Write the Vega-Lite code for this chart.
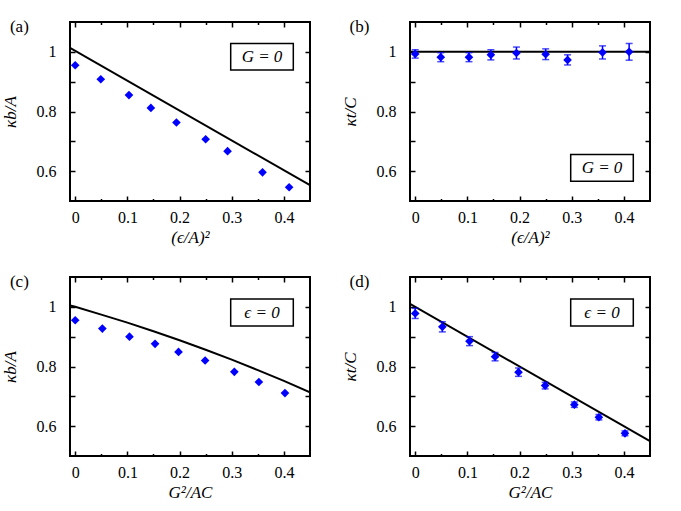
{
  "$schema": "https://vega.github.io/schema/vega-lite/v6.json",
  "background": "white",
  "padding": {"left": 0, "top": 17, "right": 5, "bottom": 5},
  "config": {
    "view": {"stroke": "black", "strokeWidth": 2},
    "axis": {"domain": false, "grid": false, "tickColor": "black", "tickWidth": 1.5, "labelFont": "Liberation Serif", "labelFontSize": 16, "labelColor": "black", "titleFont": "Liberation Serif", "titleFontSize": 17, "titleFontWeight": "normal", "titleFontStyle": "italic", "titleColor": "black"},
    "text": {"font": "Liberation Serif", "color": "black"}
  },
  "datasets": {
    "pa": [{"x": 0, "y": 0.955}, {"x": 0.049, "y": 0.908}, {"x": 0.103, "y": 0.855}, {"x": 0.145, "y": 0.812}, {"x": 0.194, "y": 0.763}, {"x": 0.25, "y": 0.707}, {"x": 0.292, "y": 0.667}, {"x": 0.359, "y": 0.596}, {"x": 0.41, "y": 0.546}],
    "pb": [{"x": 0, "y": 0.993, "lo": 0.979, "hi": 1.007}, {"x": 0.049, "y": 0.982, "lo": 0.967, "hi": 0.997}, {"x": 0.103, "y": 0.982, "lo": 0.967, "hi": 0.997}, {"x": 0.145, "y": 0.99, "lo": 0.973, "hi": 1.007}, {"x": 0.194, "y": 0.996, "lo": 0.976, "hi": 1.016}, {"x": 0.25, "y": 0.992, "lo": 0.974, "hi": 1.01}, {"x": 0.292, "y": 0.973, "lo": 0.956, "hi": 0.99}, {"x": 0.359, "y": 0.998, "lo": 0.976, "hi": 1.02}, {"x": 0.41, "y": 1.0, "lo": 0.972, "hi": 1.028}],
    "pc": [{"x": 0, "y": 0.955}, {"x": 0.052, "y": 0.927}, {"x": 0.104, "y": 0.9}, {"x": 0.153, "y": 0.876}, {"x": 0.198, "y": 0.849}, {"x": 0.249, "y": 0.82}, {"x": 0.305, "y": 0.782}, {"x": 0.352, "y": 0.748}, {"x": 0.402, "y": 0.711}],
    "pd": [{"x": 0, "y": 0.978, "lo": 0.961, "hi": 0.995}, {"x": 0.052, "y": 0.933, "lo": 0.916, "hi": 0.95}, {"x": 0.104, "y": 0.885, "lo": 0.87, "hi": 0.9}, {"x": 0.153, "y": 0.833, "lo": 0.819, "hi": 0.847}, {"x": 0.198, "y": 0.781, "lo": 0.767, "hi": 0.795}, {"x": 0.249, "y": 0.736, "lo": 0.725, "hi": 0.747}, {"x": 0.305, "y": 0.672, "lo": 0.663, "hi": 0.681}, {"x": 0.352, "y": 0.63, "lo": 0.621, "hi": 0.639}, {"x": 0.402, "y": 0.576, "lo": 0.568, "hi": 0.584}],
    "la": [{"x": -0.01, "y": 1.013}, {"x": 0.45, "y": 0.553}],
    "lb": [{"x": -0.01, "y": 1.0}, {"x": 0.45, "y": 1.0}],
    "lc": [{"x": -0.01, "y": 1.005}, {"x": 0, "y": 1.0}, {"x": 0.05, "y": 0.974}, {"x": 0.1, "y": 0.947}, {"x": 0.15, "y": 0.918}, {"x": 0.2, "y": 0.888}, {"x": 0.25, "y": 0.856}, {"x": 0.3, "y": 0.823}, {"x": 0.35, "y": 0.788}, {"x": 0.4, "y": 0.752}, {"x": 0.45, "y": 0.713}],
    "ld": [{"x": -0.01, "y": 1.01}, {"x": 0.45, "y": 0.55}],
    "one": [{}]
  },
  "columns": 2,
  "bounds": "flush",
  "spacing": {"row": 76, "column": 100},
  "concat": [
    {
      "width": 240, "height": 179,
      "resolve": {"axis": {"x": "independent", "y": "independent"}},
      "layer": [
        {"data": {"name": "la"}, "mark": {"type": "line", "color": "black", "strokeWidth": 2, "clip": true},
         "encoding": {
           "x": {"field": "x", "type": "quantitative", "scale": {"domain": [-0.01, 0.45], "nice": false, "zero": false},
                 "axis": {"orient": "bottom", "values": [0, 0.05, 0.1, 0.15, 0.2, 0.25, 0.3, 0.35, 0.4], "labelExpr": "round(datum.value*100) % 10 == 0 ? format(datum.value,'~g') : ''", "tickSize": {"condition": {"test": "round(datum.value*100) % 10 != 0", "value": -2.5}, "value": -5}, "labelPadding": 13, "title": "(ϵ/A)²", "titlePadding": 4}},
           "y": {"field": "y", "type": "quantitative", "scale": {"domain": [0.5, 1.1], "nice": false, "zero": false},
                 "axis": {"orient": "left", "values": [0.6, 0.7, 0.8, 0.9, 1], "labelExpr": "(datum.value > 0.65 && datum.value < 0.75) || (datum.value > 0.85 && datum.value < 0.95) ? '' : format(datum.value,'~g')", "tickSize": -5, "labelPadding": 19, "title": "κb/A", "titlePadding": 17}}
         }},
        {"data": {"name": "pa"}, "mark": {"type": "point", "shape": "diamond", "filled": true, "color": "#0000ff", "size": 75, "opacity": 1},
         "encoding": {
           "x": {"field": "x", "type": "quantitative", "axis": {"orient": "top", "values": [0, 0.05, 0.1, 0.15, 0.2, 0.25, 0.3, 0.35, 0.4], "labels": false, "title": null, "tickSize": {"condition": {"test": "round(datum.value*100) % 10 != 0", "value": -2.5}, "value": -5}}},
           "y": {"field": "y", "type": "quantitative", "axis": {"orient": "right", "values": [0.6, 0.7, 0.8, 0.9, 1], "labels": false, "title": null, "tickSize": -5}}
         }},
        {"data": {"name": "one"}, "mark": {"type": "rect", "fill": "white", "stroke": "black", "strokeWidth": 1.5},
         "encoding": {"x": {"datum": 0.298, "type": "quantitative", "axis": null}, "x2": {"datum": 0.418}, "y": {"datum": 1.028, "type": "quantitative", "axis": null}, "y2": {"datum": 0.939}}},
        {"data": {"name": "one"}, "mark": {"type": "text", "fontSize": 17, "fontStyle": "italic", "align": "center", "baseline": "middle"},
         "encoding": {"x": {"datum": 0.358, "type": "quantitative", "axis": null}, "y": {"datum": 0.983, "type": "quantitative", "axis": null}, "text": {"value": "G = 0"}}},
        {"data": {"name": "one"}, "mark": {"type": "text", "fontSize": 17, "align": "center", "baseline": "middle"},
         "encoding": {"x": {"datum": -0.107, "type": "quantitative", "axis": null}, "y": {"datum": 1.083, "type": "quantitative", "axis": null}, "text": {"value": "(a)"}}}
      ]
    },
    {
      "width": 240, "height": 179,
      "resolve": {"axis": {"x": "independent", "y": "independent"}},
      "layer": [
        {"data": {"name": "lb"}, "mark": {"type": "line", "color": "black", "strokeWidth": 2, "clip": true},
         "encoding": {
           "x": {"field": "x", "type": "quantitative", "scale": {"domain": [-0.01, 0.45], "nice": false, "zero": false},
                 "axis": {"orient": "bottom", "values": [0, 0.05, 0.1, 0.15, 0.2, 0.25, 0.3, 0.35, 0.4], "labelExpr": "round(datum.value*100) % 10 == 0 ? format(datum.value,'~g') : ''", "tickSize": {"condition": {"test": "round(datum.value*100) % 10 != 0", "value": -2.5}, "value": -5}, "labelPadding": 13, "title": "(ϵ/A)²", "titlePadding": 4}},
           "y": {"field": "y", "type": "quantitative", "scale": {"domain": [0.5, 1.1], "nice": false, "zero": false},
                 "axis": {"orient": "left", "values": [0.6, 0.7, 0.8, 0.9, 1], "labelExpr": "(datum.value > 0.65 && datum.value < 0.75) || (datum.value > 0.85 && datum.value < 0.95) ? '' : format(datum.value,'~g')", "tickSize": -5, "labelPadding": 19, "title": "κt/C", "titlePadding": 17}}
         }},
        {"data": {"name": "pb"}, "mark": {"type": "errorbar", "color": "#0000ff", "thickness": 1.5, "ticks": true, "size": 7},
         "encoding": {"x": {"field": "x", "type": "quantitative", "axis": null}, "y": {"field": "lo", "type": "quantitative", "axis": null}, "y2": {"field": "hi"}}},
        {"data": {"name": "pb"}, "mark": {"type": "point", "shape": "diamond", "filled": true, "color": "#0000ff", "size": 75, "opacity": 1},
         "encoding": {
           "x": {"field": "x", "type": "quantitative", "axis": {"orient": "top", "values": [0, 0.05, 0.1, 0.15, 0.2, 0.25, 0.3, 0.35, 0.4], "labels": false, "title": null, "tickSize": {"condition": {"test": "round(datum.value*100) % 10 != 0", "value": -2.5}, "value": -5}}},
           "y": {"field": "y", "type": "quantitative", "axis": {"orient": "right", "values": [0.6, 0.7, 0.8, 0.9, 1], "labels": false, "title": null, "tickSize": -5}}
         }},
        {"data": {"name": "one"}, "mark": {"type": "rect", "fill": "white", "stroke": "black", "strokeWidth": 1.5},
         "encoding": {"x": {"datum": 0.298, "type": "quantitative", "axis": null}, "x2": {"datum": 0.418}, "y": {"datum": 0.656, "type": "quantitative", "axis": null}, "y2": {"datum": 0.566}}},
        {"data": {"name": "one"}, "mark": {"type": "text", "fontSize": 17, "fontStyle": "italic", "align": "center", "baseline": "middle"},
         "encoding": {"x": {"datum": 0.358, "type": "quantitative", "axis": null}, "y": {"datum": 0.611, "type": "quantitative", "axis": null}, "text": {"value": "G = 0"}}},
        {"data": {"name": "one"}, "mark": {"type": "text", "fontSize": 17, "align": "center", "baseline": "middle"},
         "encoding": {"x": {"datum": -0.107, "type": "quantitative", "axis": null}, "y": {"datum": 1.083, "type": "quantitative", "axis": null}, "text": {"value": "(b)"}}}
      ]
    },
    {
      "width": 240, "height": 179,
      "resolve": {"axis": {"x": "independent", "y": "independent"}},
      "layer": [
        {"data": {"name": "lc"}, "mark": {"type": "line", "color": "black", "strokeWidth": 2, "clip": true},
         "encoding": {
           "x": {"field": "x", "type": "quantitative", "scale": {"domain": [-0.01, 0.45], "nice": false, "zero": false},
                 "axis": {"orient": "bottom", "values": [0, 0.05, 0.1, 0.15, 0.2, 0.25, 0.3, 0.35, 0.4], "labelExpr": "round(datum.value*100) % 10 == 0 ? format(datum.value,'~g') : ''", "tickSize": {"condition": {"test": "round(datum.value*100) % 10 != 0", "value": -2.5}, "value": -5}, "labelPadding": 13, "title": "G²/AC", "titlePadding": 4}},
           "y": {"field": "y", "type": "quantitative", "scale": {"domain": [0.5, 1.1], "nice": false, "zero": false},
                 "axis": {"orient": "left", "values": [0.6, 0.7, 0.8, 0.9, 1], "labelExpr": "(datum.value > 0.65 && datum.value < 0.75) || (datum.value > 0.85 && datum.value < 0.95) ? '' : format(datum.value,'~g')", "tickSize": -5, "labelPadding": 19, "title": "κb/A", "titlePadding": 17}}
         }},
        {"data": {"name": "pc"}, "mark": {"type": "point", "shape": "diamond", "filled": true, "color": "#0000ff", "size": 75, "opacity": 1},
         "encoding": {
           "x": {"field": "x", "type": "quantitative", "axis": {"orient": "top", "values": [0, 0.05, 0.1, 0.15, 0.2, 0.25, 0.3, 0.35, 0.4], "labels": false, "title": null, "tickSize": {"condition": {"test": "round(datum.value*100) % 10 != 0", "value": -2.5}, "value": -5}}},
           "y": {"field": "y", "type": "quantitative", "axis": {"orient": "right", "values": [0.6, 0.7, 0.8, 0.9, 1], "labels": false, "title": null, "tickSize": -5}}
         }},
        {"data": {"name": "one"}, "mark": {"type": "rect", "fill": "white", "stroke": "black", "strokeWidth": 1.5},
         "encoding": {"x": {"datum": 0.298, "type": "quantitative", "axis": null}, "x2": {"datum": 0.418}, "y": {"datum": 1.026, "type": "quantitative", "axis": null}, "y2": {"datum": 0.936}}},
        {"data": {"name": "one"}, "mark": {"type": "text", "fontSize": 17, "fontStyle": "italic", "align": "center", "baseline": "middle"},
         "encoding": {"x": {"datum": 0.358, "type": "quantitative", "axis": null}, "y": {"datum": 0.981, "type": "quantitative", "axis": null}, "text": {"value": "ϵ = 0"}}},
        {"data": {"name": "one"}, "mark": {"type": "text", "fontSize": 17, "align": "center", "baseline": "middle"},
         "encoding": {"x": {"datum": -0.107, "type": "quantitative", "axis": null}, "y": {"datum": 1.083, "type": "quantitative", "axis": null}, "text": {"value": "(c)"}}}
      ]
    },
    {
      "width": 240, "height": 179,
      "resolve": {"axis": {"x": "independent", "y": "independent"}},
      "layer": [
        {"data": {"name": "ld"}, "mark": {"type": "line", "color": "black", "strokeWidth": 2, "clip": true},
         "encoding": {
           "x": {"field": "x", "type": "quantitative", "scale": {"domain": [-0.01, 0.45], "nice": false, "zero": false},
                 "axis": {"orient": "bottom", "values": [0, 0.05, 0.1, 0.15, 0.2, 0.25, 0.3, 0.35, 0.4], "labelExpr": "round(datum.value*100) % 10 == 0 ? format(datum.value,'~g') : ''", "tickSize": {"condition": {"test": "round(datum.value*100) % 10 != 0", "value": -2.5}, "value": -5}, "labelPadding": 13, "title": "G²/AC", "titlePadding": 4}},
           "y": {"field": "y", "type": "quantitative", "scale": {"domain": [0.5, 1.1], "nice": false, "zero": false},
                 "axis": {"orient": "left", "values": [0.6, 0.7, 0.8, 0.9, 1], "labelExpr": "(datum.value > 0.65 && datum.value < 0.75) || (datum.value > 0.85 && datum.value < 0.95) ? '' : format(datum.value,'~g')", "tickSize": -5, "labelPadding": 19, "title": "κt/C", "titlePadding": 17}}
         }},
        {"data": {"name": "pd"}, "mark": {"type": "errorbar", "color": "#0000ff", "thickness": 1.5, "ticks": true, "size": 7},
         "encoding": {"x": {"field": "x", "type": "quantitative", "axis": null}, "y": {"field": "lo", "type": "quantitative", "axis": null}, "y2": {"field": "hi"}}},
        {"data": {"name": "pd"}, "mark": {"type": "point", "shape": "diamond", "filled": true, "color": "#0000ff", "size": 75, "opacity": 1},
         "encoding": {
           "x": {"field": "x", "type": "quantitative", "axis": {"orient": "top", "values": [0, 0.05, 0.1, 0.15, 0.2, 0.25, 0.3, 0.35, 0.4], "labels": false, "title": null, "tickSize": {"condition": {"test": "round(datum.value*100) % 10 != 0", "value": -2.5}, "value": -5}}},
           "y": {"field": "y", "type": "quantitative", "axis": {"orient": "right", "values": [0.6, 0.7, 0.8, 0.9, 1], "labels": false, "title": null, "tickSize": -5}}
         }},
        {"data": {"name": "one"}, "mark": {"type": "rect", "fill": "white", "stroke": "black", "strokeWidth": 1.5},
         "encoding": {"x": {"datum": 0.298, "type": "quantitative", "axis": null}, "x2": {"datum": 0.418}, "y": {"datum": 1.026, "type": "quantitative", "axis": null}, "y2": {"datum": 0.936}}},
        {"data": {"name": "one"}, "mark": {"type": "text", "fontSize": 17, "fontStyle": "italic", "align": "center", "baseline": "middle"},
         "encoding": {"x": {"datum": 0.358, "type": "quantitative", "axis": null}, "y": {"datum": 0.981, "type": "quantitative", "axis": null}, "text": {"value": "ϵ = 0"}}},
        {"data": {"name": "one"}, "mark": {"type": "text", "fontSize": 17, "align": "center", "baseline": "middle"},
         "encoding": {"x": {"datum": -0.107, "type": "quantitative", "axis": null}, "y": {"datum": 1.083, "type": "quantitative", "axis": null}, "text": {"value": "(d)"}}}
      ]
    }
  ]
}
